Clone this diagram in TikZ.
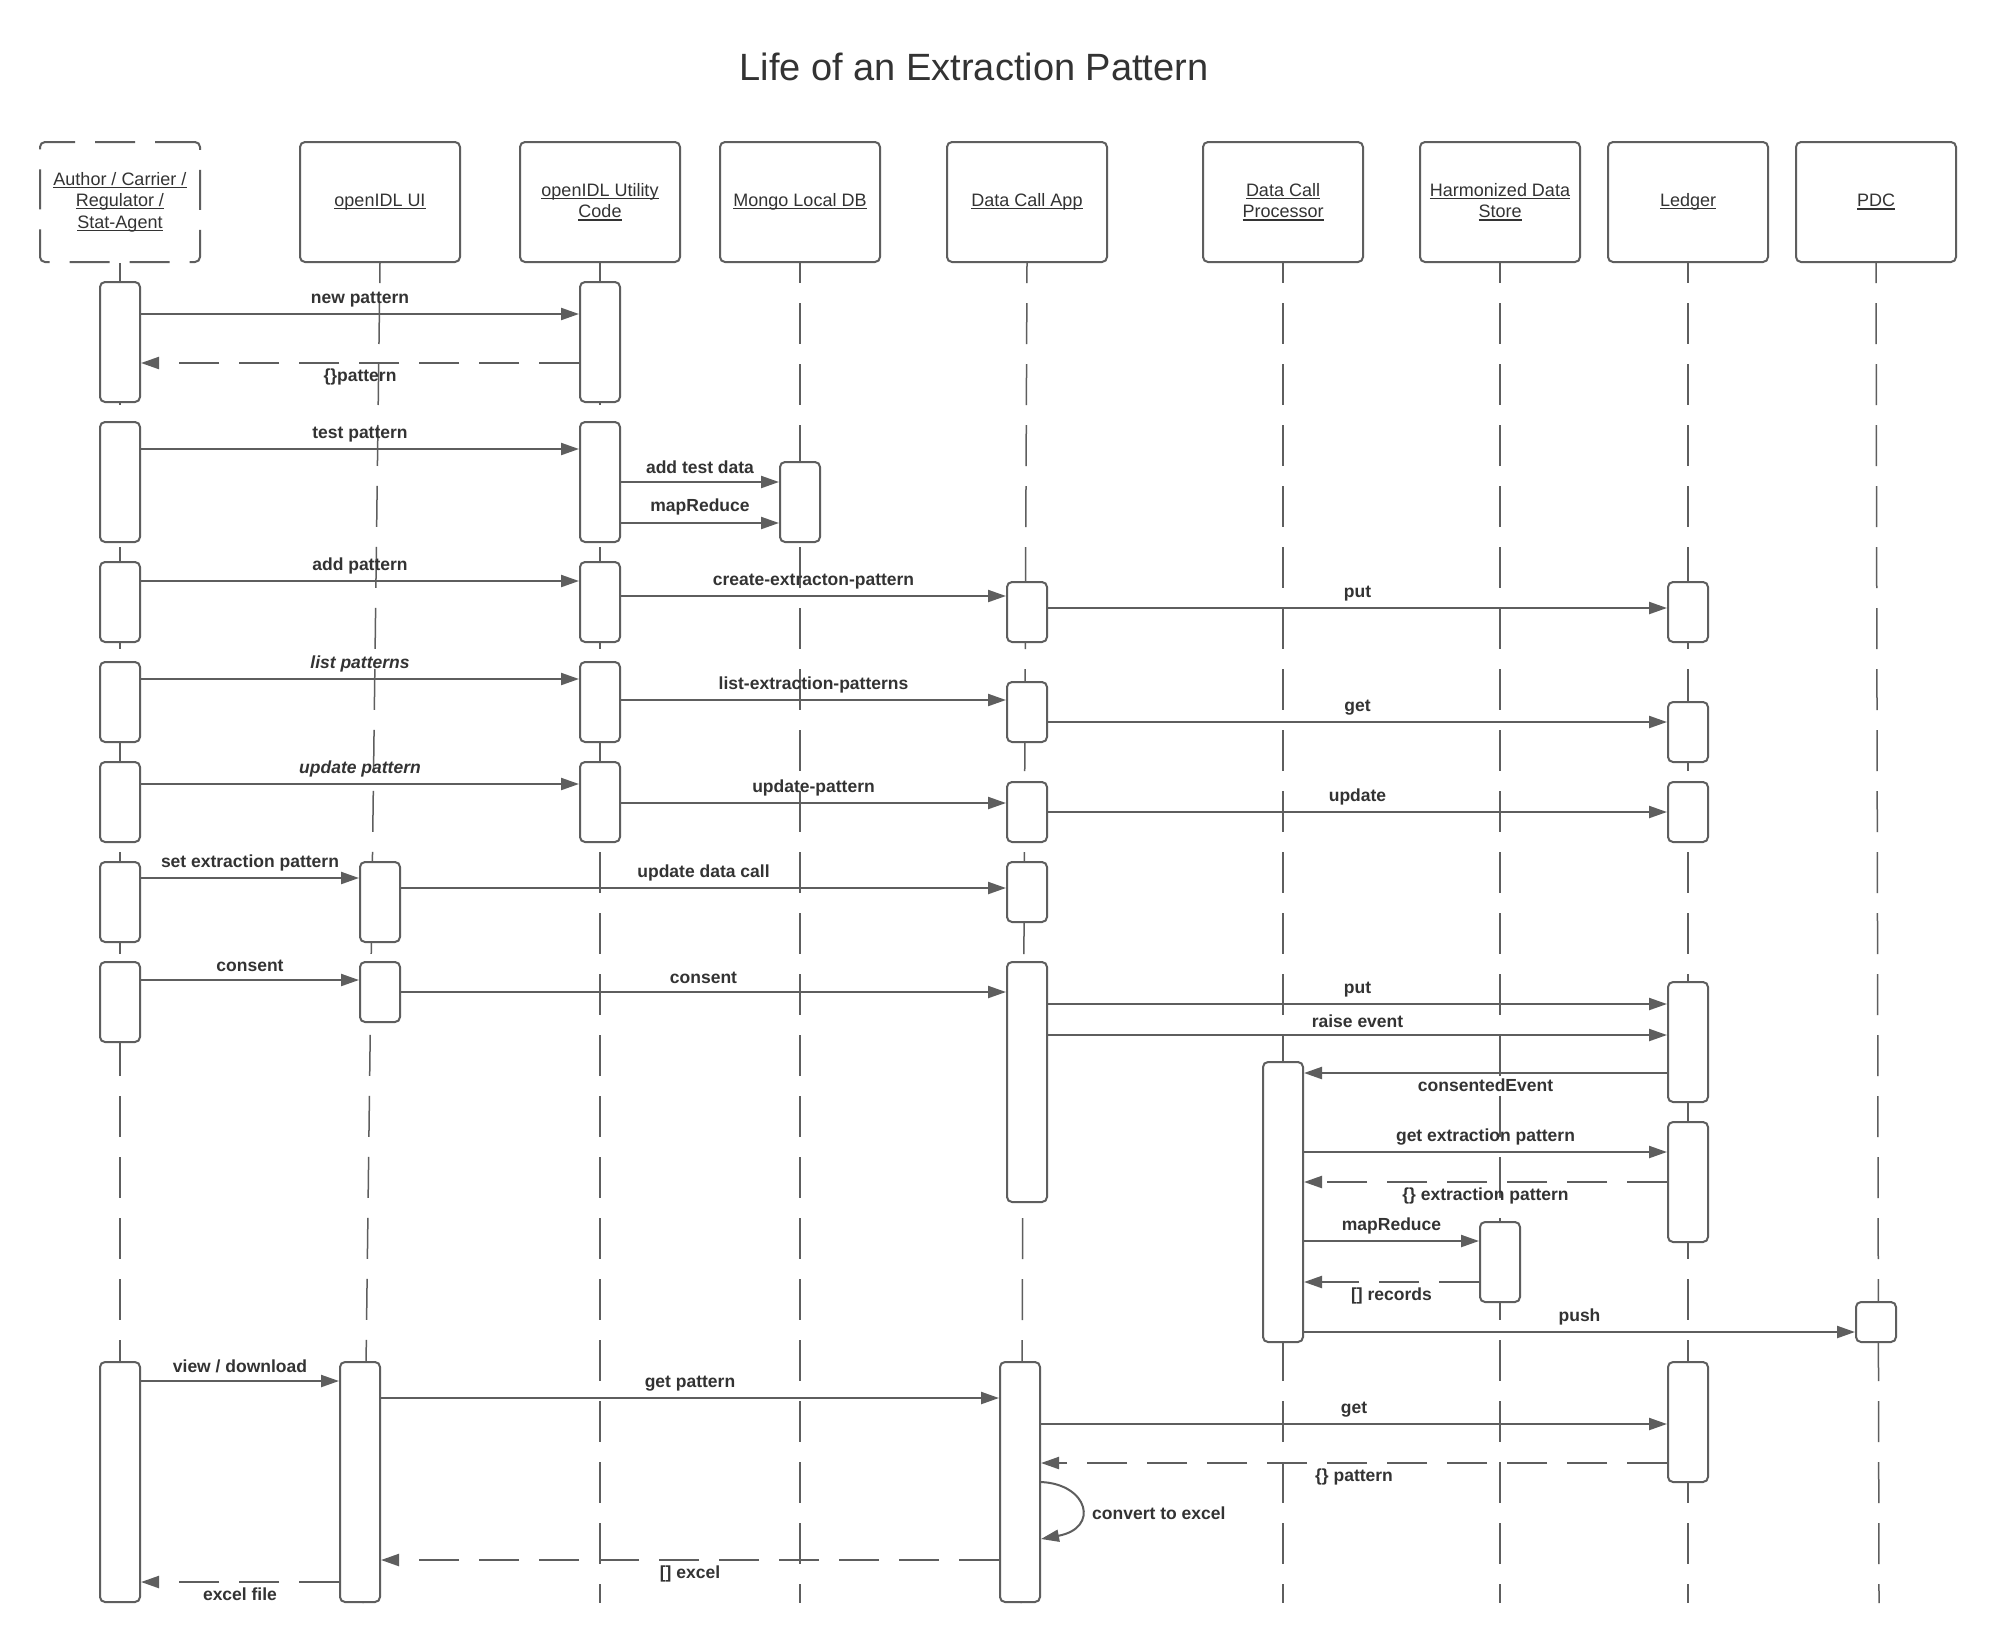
\documentclass[tikz,border=0pt]{standalone}
\usepackage{fontspec}
\setmainfont{Liberation Sans}
\usetikzlibrary{arrows.meta}
\definecolor{linegray}{RGB}{94,94,94}
\definecolor{textgray}{RGB}{51,51,51}
\newcommand\ulabel[1]{\setbox0\hbox{#1}\rlap{\rule[-2.8pt]{\wd0}{1.3pt}}\box0}

\begin{document}
\begin{tikzpicture}[x=1pt,y=-1pt,>={Triangle[length=18pt,width=12pt]},
  actor/.style={draw=linegray,line width=2pt,rounded corners=5pt,fill=white,
    minimum width=160pt,minimum height=120pt,align=center,text=textgray,
    font=\fontsize{18}{21.5}\selectfont},
  actbar/.style={draw=linegray,line width=2pt,fill=white,rounded corners=5pt,
    minimum width=40pt,inner sep=0pt},
  lifeline/.style={linegray,line width=1.5pt,dash pattern=on 41pt off 20pt,dash phase=21pt},
  msg/.style={->,linegray,line width=2.2pt},
  reply/.style={msg,dash pattern=on 40pt off 20pt},
  lbl/.style={text=textgray,font=\fontsize{17.5}{21}\selectfont\bfseries,inner sep=3pt},
  lbli/.style={lbl,font=\fontsize{17.5}{21}\selectfont\bfseries\itshape}]
  \fill[white] (0,0) rectangle (1996,1647);
  \useasboundingbox (0,0) rectangle (1996,1647);

  % Title
  \node[text=textgray,font=\fontsize{38}{46}\selectfont] (title) at (974,66.5) {Life of an Extraction Pattern};

  % Participants
  \node[actor,dash pattern=on 40pt off 20pt] (author) at (120,202)
    {\ulabel{Author / Carrier /}\\\ulabel{Regulator /}\\\ulabel{Stat-Agent}};
  \node[actor] (ui) at (380,202) {\ulabel{openIDL UI}};
  \node[actor] (util) at (600,202) {\ulabel{openIDL Utility}\\\ulabel{Code}};
  \node[actor] (mongo) at (800,202) {\ulabel{Mongo Local DB}};
  \node[actor] (dca) at (1027,202) {\ulabel{Data Call App}};
  \node[actor] (dcp) at (1283,202) {\ulabel{Data Call}\\\ulabel{Processor}};
  \node[actor] (hds) at (1500,202) {\ulabel{Harmonized Data}\\\ulabel{Store}};
  \node[actor] (ledger) at (1688,202) {\ulabel{Ledger}};
  \node[actor] (pdc) at (1876,202) {\ulabel{PDC}};

  % Lifelines
  \foreach \p/\dx in {author/0,ui/-17,util/0,mongo/0,dca/-6,dcp/0,hds/0,ledger/0,pdc/3}
    \draw[lifeline] (\p.south) -- ++(\dx,1340);

  % Activation bars: author
  \node[actbar,minimum height=120pt] (a1) at (120,342) {};
  \node[actbar,minimum height=120pt] (a2) at (120,482) {};
  \node[actbar,minimum height=80pt] (a3) at (120,602) {};
  \node[actbar,minimum height=80pt] (a4) at (120,702) {};
  \node[actbar,minimum height=80pt] (a5) at (120,802) {};
  \node[actbar,minimum height=80pt] (a6) at (120,902) {};
  \node[actbar,minimum height=80pt] (a7) at (120,1002) {};
  \node[actbar,minimum height=240pt] (a8) at (120,1482) {};
  % utility code
  \node[actbar,minimum height=120pt] (u1) at (600,342) {};
  \node[actbar,minimum height=120pt] (u2) at (600,482) {};
  \node[actbar,minimum height=80pt] (u3) at (600,602) {};
  \node[actbar,minimum height=80pt] (u4) at (600,702) {};
  \node[actbar,minimum height=80pt] (u5) at (600,802) {};
  % mongo
  \node[actbar,minimum height=80pt] (m1) at (800,502) {};
  % openIDL UI
  \node[actbar,minimum height=80pt] (i1) at (380,902) {};
  \node[actbar,minimum height=60pt] (i2) at (380,992) {};
  \node[actbar,minimum height=240pt] (i3) at (360,1482) {};
  % data call app
  \node[actbar,minimum height=60pt] (d1) at (1027,612) {};
  \node[actbar,minimum height=60pt] (d2) at (1027,712) {};
  \node[actbar,minimum height=60pt] (d3) at (1027,812) {};
  \node[actbar,minimum height=60pt] (d4) at (1027,892) {};
  \node[actbar,minimum height=240pt] (d5) at (1027,1082) {};
  \node[actbar,minimum height=240pt] (d6) at (1020,1482) {};
  % processor, store, pdc
  \node[actbar,minimum height=280pt] (p1) at (1283,1202) {};
  \node[actbar,minimum height=80pt] (h1) at (1500,1262) {};
  \node[actbar,minimum height=40pt] (c1) at (1876,1322) {};
  % ledger
  \node[actbar,minimum height=60pt] (l1) at (1688,612) {};
  \node[actbar,minimum height=60pt] (l2) at (1688,732) {};
  \node[actbar,minimum height=60pt] (l3) at (1688,812) {};
  \node[actbar,minimum height=120pt] (l4) at (1688,1042) {};
  \node[actbar,minimum height=120pt] (l5) at (1688,1182) {};
  \node[actbar,minimum height=120pt] (l6) at (1688,1422) {};

  % New pattern
  \draw[msg] (a1.east |- 0,314) -- (u1.west |- 0,314) node[lbl,midway,above=3pt] {new pattern};
  \draw[reply] (u1.west |- 0,363) -- (a1.east |- 0,363) node[lbl,midway,below=2pt] {\{\}pattern};
  % Test pattern
  \draw[msg] (a2.east |- 0,449) -- (u2.west |- 0,449) node[lbl,midway,above=3pt] {test pattern};
  \draw[msg] (u2.east |- 0,482) -- (m1.west |- 0,482) node[lbl,midway,above=4pt] {add test data};
  \draw[msg] (u2.east |- 0,523) -- (m1.west |- 0,523) node[lbl,midway,above=4pt] {mapReduce};
  % Add pattern
  \draw[msg] (a3.east |- 0,581) -- (u3.west |- 0,581) node[lbl,midway,above=3pt] {add pattern};
  \draw[msg] (u3.east |- 0,596) -- (d1.west |- 0,596) node[lbl,midway,above=3pt] {create-extracton-pattern};
  \draw[msg] (d1.east |- 0,608) -- (l1.west |- 0,608) node[lbl,midway,above=3pt] {put};
  % List patterns
  \draw[msg] (a4.east |- 0,679) -- (u4.west |- 0,679) node[lbli,midway,above=3pt] {list patterns};
  \draw[msg] (u4.east |- 0,700) -- (d2.west |- 0,700) node[lbl,midway,above=3pt] {list-extraction-patterns};
  \draw[msg] (d2.east |- 0,722) -- (l2.west |- 0,722) node[lbl,midway,above=3pt] {get};
  % Update pattern
  \draw[msg] (a5.east |- 0,784) -- (u5.west |- 0,784) node[lbli,midway,above=3pt] {update pattern};
  \draw[msg] (u5.east |- 0,803) -- (d3.west |- 0,803) node[lbl,midway,above=3pt] {update-pattern};
  \draw[msg] (d3.east |- 0,812) -- (l3.west |- 0,812) node[lbl,midway,above=3pt] {update};
  % Set extraction pattern
  \draw[msg] (a6.east |- 0,878) -- (i1.west |- 0,878) node[lbl,midway,above=3pt] {set extraction pattern};
  \draw[msg] (i1.east |- 0,888) -- (d4.west |- 0,888) node[lbl,midway,above=3pt] {update data call};
  % Consent
  \draw[msg] (a7.east |- 0,980) -- (i2.west |- 0,980) node[lbl,midway,above=4pt] {consent};
  \draw[msg] (i2.east |- 0,992) -- (d5.west |- 0,992) node[lbl,midway,above=4pt] {consent};
  \draw[msg] (d5.east |- 0,1004) -- (l4.west |- 0,1004) node[lbl,midway,above=3pt] {put};
  \draw[msg] (d5.east |- 0,1035) -- (l4.west |- 0,1035) node[lbl,midway,above=3pt] {raise event};
  \draw[msg] (l4.west |- 0,1073) -- (p1.east |- 0,1073) node[lbl,midway,below=2pt] {consentedEvent};
  % Processing the event
  \draw[msg] (p1.east |- 0,1152) -- (l5.west |- 0,1152) node[lbl,midway,above=3pt] {get extraction pattern};
  \draw[reply] (l5.west |- 0,1182) -- (p1.east |- 0,1182) node[lbl,midway,below=2pt] {\{\} extraction pattern};
  \draw[msg] (p1.east |- 0,1241) -- (h1.west |- 0,1241) node[lbl,midway,above=3pt] {mapReduce};
  \draw[reply] (h1.west |- 0,1282) -- (p1.east |- 0,1282) node[lbl,midway,below=2pt] {[] records};
  \draw[msg] (p1.east |- 0,1332) -- (c1.west |- 0,1332) node[lbl,midway,above=3pt] {push};
  % View / download
  \draw[msg] (a8.east |- 0,1381) -- (i3.west |- 0,1381) node[lbl,midway,above=4pt] {view / download};
  \draw[msg] (i3.east |- 0,1398) -- (d6.west |- 0,1398) node[lbl,midway,above=3pt] {get pattern};
  \draw[msg] (d6.east |- 0,1424) -- (l6.west |- 0,1424) node[lbl,midway,above=3pt] {get};
  \draw[reply] (l6.west |- 0,1463) -- (d6.east |- 0,1463) node[lbl,midway,below=2pt] {\{\} pattern};
  \draw[msg,line width=2pt] (d6.east |- 0,1482) .. controls (1088,1484) and (1100,1528) .. (d6.east |- 0,1539);
  \node[lbl,anchor=west] (convert) at (1089,1513) {convert to excel};
  \draw[reply] (d6.west |- 0,1560) -- (i3.east |- 0,1560) node[lbl,midway,below=2pt] {[] excel};
  \draw[reply] (i3.west |- 0,1582) -- (a8.east |- 0,1582) node[lbl,midway,below=2pt] {excel file};
\end{tikzpicture}
\end{document}
